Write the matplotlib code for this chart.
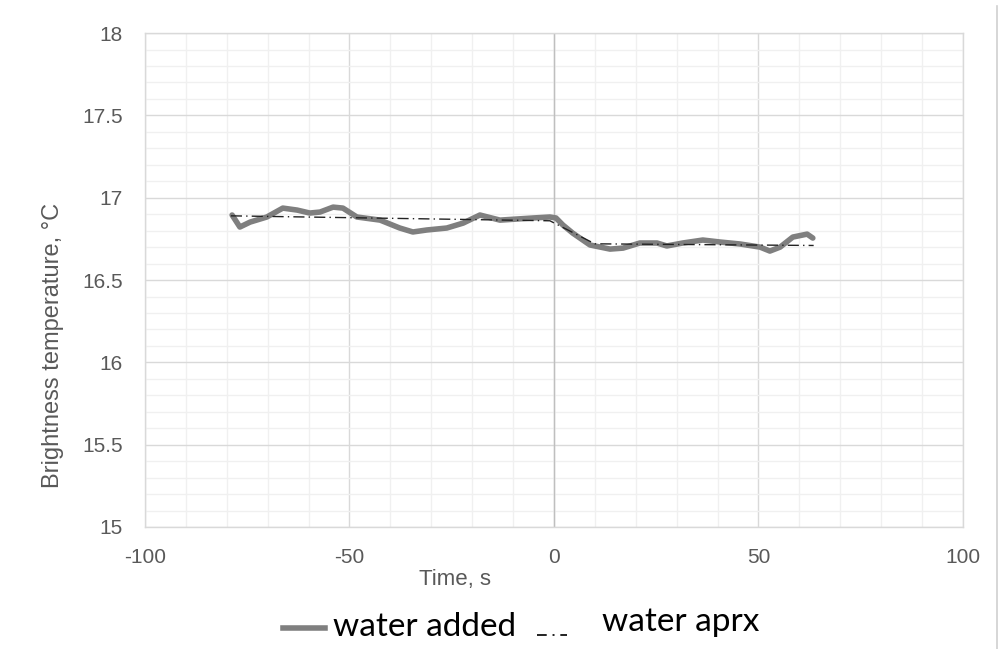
import matplotlib
matplotlib.use("Agg")
import matplotlib.pyplot as plt
from matplotlib.ticker import MultipleLocator
from matplotlib.lines import Line2D

# Data
time_added = [-78.7, -76.8, -74.3, -70.2, -66.3, -62.8, -59.7, -57.2, -54.0, -51.6,
              -48.2, -42.5, -37.7, -34.5, -31.1, -26.2, -22.2, -18.1, -13.2, -5.1,
              -1.0, 0.5, 2.2, 4.6, 8.8, 13.7, 16.9, 21.0, 25.2, 27.6, 31.5, 36.4,
              40.6, 45.5, 50.4, 52.8, 55.3, 58.4, 61.9, 63.3]
temp_added = [16.895, 16.822, 16.852, 16.883, 16.937, 16.925, 16.907, 16.913, 16.943, 16.937,
              16.883, 16.864, 16.816, 16.792, 16.804, 16.816, 16.846, 16.895, 16.864, 16.877,
              16.883, 16.877, 16.834, 16.785, 16.713, 16.688, 16.694, 16.725, 16.725, 16.707,
              16.725, 16.743, 16.731, 16.719, 16.700, 16.676, 16.700, 16.761, 16.779, 16.755]

time_aprx = [-79.0, -1.0, 10.0, 63.5]
temp_aprx = [16.89, 16.86, 16.72, 16.71]

x_ticks = [-100, -50, 0, 50, 100]
y_ticks = [15, 15.5, 16, 16.5, 17, 17.5, 18]
series_names = ["water added", "water aprx"]

fig = plt.figure(figsize=(10.02, 6.49), dpi=100)
ax = fig.add_axes([0.1447, 0.188, 0.8163, 0.761])

font = ["Liberation Sans", "DejaVu Sans"]
tick_color = "#595959"
added_color = "#7f7f7f"
aprx_color = "#222222"
aprx_style = (0, (8, 3, 1, 3))

ax.plot(time_added, temp_added, color=added_color, lw=4.0, solid_capstyle="round",
        solid_joinstyle="round", label=series_names[0], zorder=3)
ax.plot(time_aprx, temp_aprx, color=aprx_color, lw=1.0, linestyle=aprx_style,
        label=series_names[1], zorder=4)

ax.set_xlim(-100, 100)
ax.set_ylim(15, 18)
ax.set_xticks(x_ticks)
ax.set_yticks(y_ticks)
ax.set_xticklabels([f"{v:g}" for v in x_ticks], fontfamily=font, fontsize=15, color=tick_color)
ax.set_yticklabels([f"{v:g}" for v in y_ticks], fontfamily=font, fontsize=15, color=tick_color)
ax.xaxis.set_minor_locator(MultipleLocator(10))
ax.yaxis.set_minor_locator(MultipleLocator(0.1))
ax.grid(which="major", color="#d9d9d9", lw=1.0, zorder=0)
ax.grid(which="minor", color="#f0f0f0", lw=1.0, zorder=0)
ax.axvline(0, color="#bfbfbf", lw=1.0, zorder=1)
ax.set_axisbelow(True)
ax.tick_params(which="both", length=0)
ax.tick_params(axis="x", pad=15)
ax.tick_params(axis="y", pad=16)
for s in ax.spines.values():
    s.set_color("#d9d9d9")
    s.set_linewidth(1.0)

ax.set_xlabel("Time, s", fontfamily=font, fontsize=16, color=tick_color)
ax.xaxis.set_label_coords(0.379, -0.085)
ax.set_ylabel("Brightness temperature, °C", fontfamily=font, fontsize=17, color=tick_color)
ax.yaxis.set_label_coords(-0.099, 0.368)

# Legend (placed as in the reference, below the plot)
leg_font = ["Lato", "DejaVu Sans"]
fig.add_artist(Line2D([0.2824, 0.3244], [0.0324, 0.0324], transform=fig.transFigure,
                      color=added_color, lw=4.0))
fig.text(0.3323, 0.034, series_names[0], fontfamily=leg_font, fontsize=24,
         color="black", ha="left", va="center")
fig.add_artist(Line2D([0.536, 0.566], [0.021, 0.021], transform=fig.transFigure,
                      color=aprx_color, lw=1.4, linestyle=(0, (5, 3, 1, 3))))
fig.text(0.6008, 0.0416, series_names[1], fontfamily=leg_font, fontsize=24,
         color="black", ha="left", va="center")

fig.add_artist(Line2D([0.995, 0.995], [0.0, 0.99], transform=fig.transFigure,
                      color="#d0d0d0", lw=1.2))

fig.savefig("out.png", dpi=100)
